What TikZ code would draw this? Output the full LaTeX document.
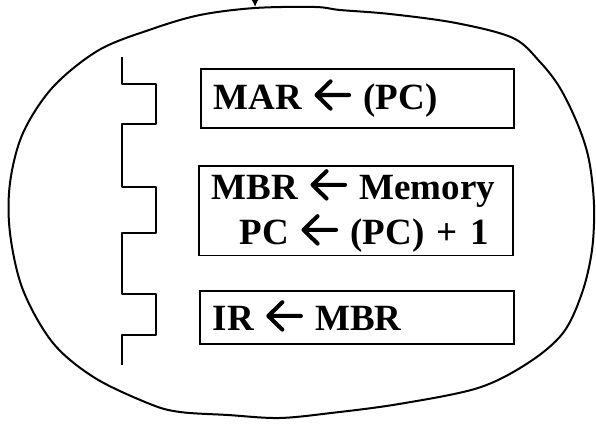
\documentclass[tikz,border=0pt]{standalone}
\usepackage{fontspec}
\setmainfont{Liberation Serif}
\usetikzlibrary{arrows.meta}
% thick chevron arrow as in the scanned figure
\newcommand{\larr}{\tikz[baseline=0pt,x=1em,y=1em,line width=0.11em,line cap=round,line join=round]
  \draw (0.42,0.76) -- (0.04,0.39) -- (0.42,0.02) (0.04,0.39) -- (0.92,0.39);}
\begin{document}
\begin{tikzpicture}[x=1pt,y=-1pt,
    membox/.style={draw,line width=1.6pt,anchor=north west,align=left,
      inner xsep=13pt,font=\fontsize{37}{45}\selectfont\bfseries},
    clock/.style={line width=2.8pt,line join=round}]
  \useasboundingbox (0,0) rectangle (596,423);
  % state bubble
  \draw[line width=2pt] plot[smooth cycle,tension=0.55] coordinates {
    (255,8) (315,7) (340,10) (390,14) (456,23) (513,38) (540,62) (560,88)
    (578,125) (589,160) (594,205) (592,250) (582,293) (563,333) (528,363)
    (478,388) (399,404) (331,413) (279,418) (228,415) (180,412) (150,404)
    (95,378) (53,343) (23,290) (10,233) (10,183) (23,133) (53,87) (99,50)
    (152,29) (200,15)};
  \coordinate (in) at (255,-12);
  \coordinate (top) at (255,7);
  \draw[line width=2pt,-{Latex[length=8pt,width=8pt]}] (in) -- (top);
  % clock
  \draw[clock] (122,57) -- (122,84) -- (156,84) -- (156,124) -- (122,124)
    -- (122,187) -- (156,187) -- (156,233) -- (122,233) -- (122,294)
    -- (156,294) -- (156,335) -- (122,335) -- (122,365);
  % micro-operations
  \node[membox,minimum width=313pt,minimum height=59pt,text width=287pt] (mar)
    at (200,68) {MAR \larr\ (PC)};
  \node[membox,minimum width=314pt,minimum height=85pt,text width=288pt] (mbr)
    at (198,165) {MBR \larr\ Memory\\\hspace*{28pt}PC \larr\ (PC) + 1};
  \node[membox,minimum width=314pt,minimum height=53pt,text width=288pt,
    text depth=4pt] (ir) at (199,290) {IR \larr\ MBR};
\end{tikzpicture}
\end{document}
